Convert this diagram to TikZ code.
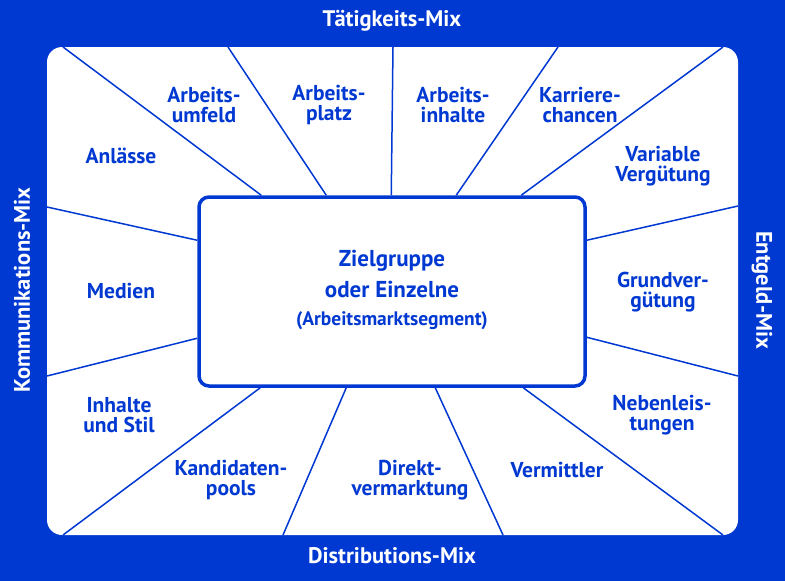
\documentclass[tikz,border=0pt]{standalone}
\usepackage{fontspec}
\setmainfont{PT Sans}
\usetikzlibrary{calc}

\definecolor{blau}{RGB}{0,56,210}

\tikzset{
    strahl/.style={draw=blau, line width=1.5pt},
    feldtext/.style={text=blau, align=center, inner sep=0pt, font=\bfseries\fontsize{21.5}{20}\selectfont},
    mixtext/.style={text=white, inner sep=0pt, font=\bfseries\fontsize{22.5}{24}\selectfont},
    zielbox/.style={draw=blau, line width=3.5pt, rounded corners=10pt, fill=white,
        minimum width=386pt, minimum height=189pt, inner sep=0pt, align=center}
}

\begin{document}
\begin{tikzpicture}[x=1pt, y=-1pt]
    % Hintergrund und Feld
    \fill[blau] (0,0) rectangle (785,581);
    \fill[white, rounded corners=15pt] (47,47) rectangle (738,535);

    % Mitte
    \node[zielbox] (ziel) at (392,291.5) {};
    \node[feldtext, font=\bfseries\fontsize{23}{31}\selectfont] (zg) at (392,274) {Zielgruppe\\oder Einzelne};
    \node[feldtext, font=\bfseries\fontsize{19.5}{20}\selectfont] (seg) at (392,321) {(Arbeitsmarktsegment)};

    % Randpunkte
    \coordinate (o1) at (63,47);
    \coordinate (o2) at (228,47);
    \coordinate (o3) at (393,47);
    \coordinate (o4) at (558,47);
    \coordinate (o5) at (723,47);
    \coordinate (u1) at (63,535);
    \coordinate (u2) at (283,535);
    \coordinate (u3) at (503,535);
    \coordinate (u4) at (723,535);
    \coordinate (l1) at (47,207);
    \coordinate (l2) at (47,376);
    \coordinate (r1) at (738,206);
    \coordinate (r2) at (738,376);

    % Strahlen
    \draw[strahl] (o1) -- ($(ziel.north west)+(64,0)$);
    \draw[strahl] (o2) -- ($(ziel.north west)+(129,0)$);
    \draw[strahl] (o3) -- ($(ziel.north west)+(194,0)$);
    \draw[strahl] (o4) -- ($(ziel.north west)+(259,0)$);
    \draw[strahl] (o5) -- ($(ziel.north west)+(324,0)$);
    \draw[strahl] (u1) -- ($(ziel.south west)+(63,0)$);
    \draw[strahl] (u2) -- ($(ziel.south west)+(149,0)$);
    \draw[strahl] (u3) -- ($(ziel.south west)+(238,0)$);
    \draw[strahl] (u4) -- ($(ziel.south west)+(326,0)$);
    \draw[strahl] (l1) -- ($(ziel.north west)+(0,45)$);
    \draw[strahl] (l2) -- ($(ziel.north west)+(0,143)$);
    \draw[strahl] (r1) -- ($(ziel.north east)+(0,45)$);
    \draw[strahl] (r2) -- ($(ziel.north east)+(0,142)$);

    % Felder
    \node[feldtext] (umfeld) at (204,105) {Arbeits-\\umfeld};
    \node[feldtext] (platz) at (329,105) {Arbeits-\\platz};
    \node[feldtext] (inhalte) at (453,105) {Arbeits-\\inhalte};
    \node[feldtext] (karriere) at (580,105) {Karriere-\\chancen};
    \node[feldtext] (anlaesse) at (121,156) {Anlässe};
    \node[feldtext] (variabel) at (663,166) {Variable\\Vergütung};
    \node[feldtext] (medien) at (121,291) {Medien};
    \node[feldtext] (grund) at (663,292) {Grundver-\\gütung};
    \node[feldtext] (stil) at (119,415) {Inhalte\\und Stil};
    \node[feldtext] (neben) at (662,415) {Nebenleis-\\tungen};
    \node[feldtext] (pools) at (231,480) {Kandidaten-\\pools};
    \node[feldtext] (direkt) at (410,480) {Direkt-\\vermarktung};
    \node[feldtext] (vermittler) at (557,470) {Vermittler};

    % Mix
    \node[mixtext] (taetig) at (392,21) {Tätigkeits-Mix};
    \node[mixtext] (distri) at (392,556) {Distributions-Mix};
    \node[mixtext, rotate=90] (kommu) at (22,290) {Kommunikations-Mix};
    \node[mixtext, rotate=-90] (entgeld) at (762,290) {Entgeld-Mix};
\end{tikzpicture}
\end{document}
